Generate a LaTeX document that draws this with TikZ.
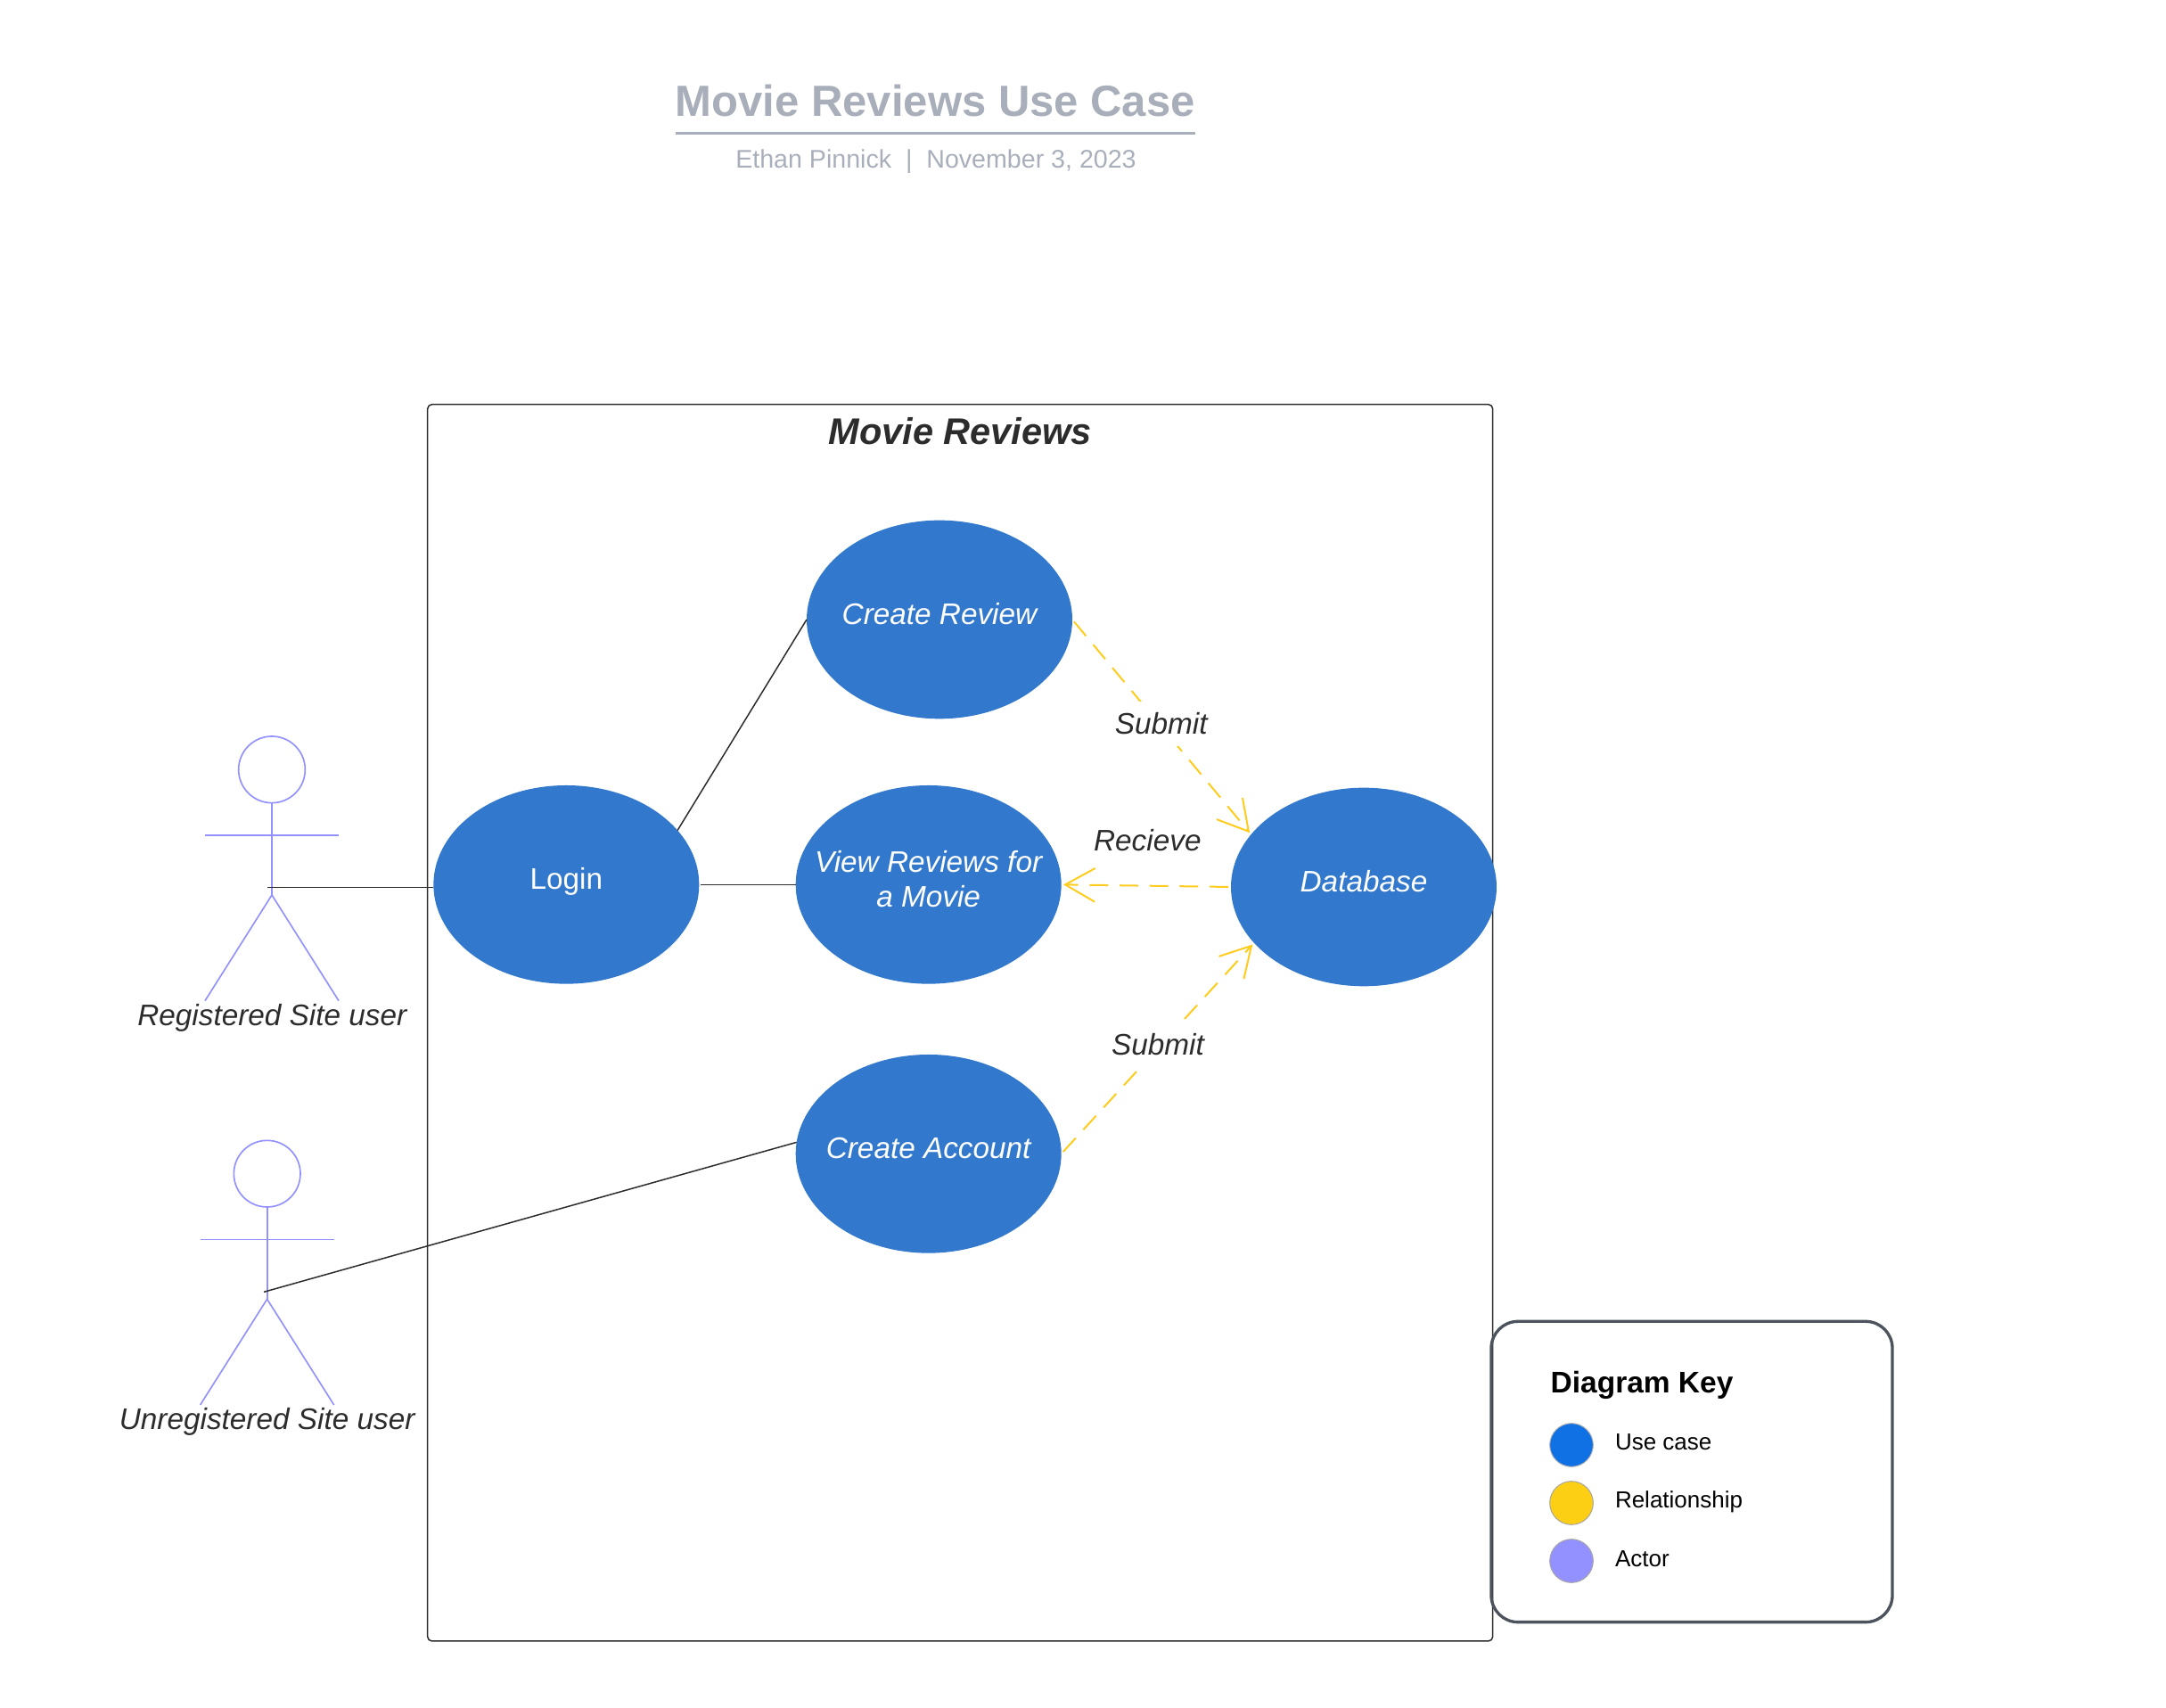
\documentclass[tikz,border=0pt]{standalone}
\usepackage{fontspec}
\setmainfont{Liberation Sans}
\usetikzlibrary{shapes.geometric,arrows.meta}
\definecolor{casecolor}{HTML}{3278CC}
\definecolor{linkcolor}{HTML}{FFCC1E}
\definecolor{actorcolor}{HTML}{9391FF}
\definecolor{titlecolor}{HTML}{A9AFBA}
\definecolor{textcolor}{HTML}{2C2C2C}
\definecolor{keycolor}{HTML}{4C535D}
\newcommand{\fsz}[1]{\fontsize{#1bp}{11.9bp}\selectfont}
\newcommand{\casetext}[1]{\raisebox{-1.7bp}[0pt][0pt]{\makebox[0pt]{#1}}}
\tikzset{
  use_case/.style={ellipse,fill=casecolor,text=white,inner sep=0pt,outer sep=0pt,
    minimum width=89.4bp,minimum height=66.8bp,align=center,font=\fsz{10}},
  rel_line/.style={linkcolor,line width=0.6bp,dash pattern=on 6.3bp off 3.8bp,shorten <=0.9bp,->},
  plain_line/.style={textcolor,line width=0.45bp},
  actor_line/.style={actorcolor,line width=0.5bp},
  rel_label/.style={text=textcolor,font=\fsz{10}\itshape,inner sep=0pt,fill=white,minimum height=15bp},
  key_dot/.style={circle,minimum size=14.6bp,inner sep=0pt,line width=0.3bp},
  key_label/.style={anchor=west,inner sep=0pt,font=\fsz{7.8}},
}
\begin{document}
\begin{tikzpicture}[>={Straight Barb[length=10bp,width=11.3bp]},line join=bevel,]
\useasboundingbox (0bp,0bp) rectangle (729bp,574.8bp);
%%
\node (node_title) at (314.8bp,540.9bp) [text=titlecolor,font=\fsz{14.7}\bfseries] {Movie Reviews Use Case};
  \node (node_author) at (315bp,520.4bp) [text=titlecolor,font=\fsz{8.58}] {Ethan Pinnick\ \ |\ \ November 3, 2023};
  \coordinate (rule_left) at (227.4bp,529.9bp);
  \coordinate (rule_right) at (402.4bp,529.9bp);
  \draw [titlecolor,line width=0.9bp] (rule_left) -- (rule_right);
%
\node (node_system) at (323.15bp,230.6bp) [draw=textcolor,line width=0.45bp,rounded corners=1.5bp,minimum width=358.5bp,minimum height=416.2bp,inner sep=0pt] {};
  \node (node_system_title) at (323.2bp,429.7bp) [text=textcolor,font=\fsz{12.45}\bfseries\itshape] {Movie Reviews};
%
\node (node_review) at (316.2bp,366.3bp) [use_case,font=\fsz{10}\itshape] {\casetext{Create Review}};
  \node (node_login) at (190.6bp,277.1bp) [use_case] {\casetext{Login}};
  \node (node_view) at (312.5bp,277.1bp) [use_case,font=\fsz{10}\itshape] {\casetext{View Reviews for}\\\casetext{a Movie}};
  \node (node_account) at (312.5bp,186.5bp) [use_case,font=\fsz{10}\itshape] {\casetext{Create Account}};
  \node (node_database) at (459bp,276.3bp) [use_case,font=\fsz{10}\itshape] {\casetext{Database}};
%
\node (head_registered) at (91.5bp,315.8bp) [circle,draw=actorcolor,line width=0.5bp,minimum size=22.4bp,inner sep=0pt] {};
  \coordinate (arm_registered_l) at (69bp,293.6bp);
  \coordinate (arm_registered_r) at (114bp,293.6bp);
  \coordinate (hip_registered) at (91.5bp,273.6bp);
  \coordinate (foot_registered_l) at (69bp,238bp);
  \coordinate (foot_registered_r) at (114bp,238bp);
  \coordinate (hand_registered) at (90bp,276.1bp);
  \draw [actor_line] (head_registered.south) -- (hip_registered);
  \draw [actor_line] (arm_registered_l) -- (arm_registered_r);
  \draw [actor_line] (foot_registered_l) -- (hip_registered) -- (foot_registered_r);
  \node (node_registered) at (91.6bp,232.2bp) [text=textcolor,font=\fsz{10}\itshape,anchor=center] {Registered Site user};
%
\node (head_guest) at (89.9bp,179.8bp) [circle,draw=actorcolor,line width=0.5bp,minimum size=22.4bp,inner sep=0pt] {};
  \coordinate (arm_guest_l) at (67.4bp,157.6bp);
  \coordinate (arm_guest_r) at (112.4bp,157.6bp);
  \coordinate (hip_guest) at (89.9bp,137.6bp);
  \coordinate (foot_guest_l) at (67.4bp,102bp);
  \coordinate (foot_guest_r) at (112.4bp,102bp);
  \coordinate (hand_guest) at (88.8bp,140bp);
  \draw [actor_line] (head_guest.south) -- (hip_guest);
  \draw [actor_line] (arm_guest_l) -- (arm_guest_r);
  \draw [actor_line] (foot_guest_l) -- (hip_guest) -- (foot_guest_r);
  \node (node_guest) at (89.9bp,96.4bp) [text=textcolor,font=\fsz{10}\itshape] {Unregistered Site user};
%
\draw [plain_line] (hand_registered) -- (node_login.west |- hand_registered);
  \draw [plain_line] (node_login.26.6) -- (node_review.west);
  \draw [plain_line] ([xshift=0.5bp]node_login.east) -- (node_view.west);
  \draw [plain_line] (hand_guest) -- (node_account.175.6);
%
\draw [rel_line,shorten >=0.7bp] (node_review.east) -- (node_database.155.4);
  \draw [rel_line,shorten >=0.7bp] (node_database.west) -- (node_view.east);
  \draw [rel_line,shorten >=0.7bp] (node_account.east) -- (node_database.207.4);
  \node (label_submit_top) at (390.8bp,331.2bp) [rel_label] {Submit};
  \node (label_recieve) at (386.2bp,292.1bp) [rel_label] {Recieve};
  \node (label_submit_low) at (389.7bp,223.4bp) [rel_label] {Submit};
%
\node (node_key) at (569.4bp,79.5bp) [draw=keycolor,line width=1bp,rounded corners=9bp,minimum width=135bp,minimum height=101.2bp,inner sep=0pt] {};
  \node (key_title) at (521.7bp,108.7bp) [anchor=west,inner sep=0pt,font=\fsz{10.05}\bfseries] {Diagram Key};
  \node (dot_case) at (528.9bp,88.5bp) [key_dot,fill={rgb,255:red,16;green,113;blue,229},draw=black!30] {};
  \node (dot_link) at (528.9bp,69bp) [key_dot,fill={rgb,255:red,252;green,206;blue,20},draw=black!35] {};
  \node (dot_actor) at (528.9bp,49.5bp) [key_dot,fill=actorcolor,draw=black!35] {};
  \node (key_case) at (543.4bp,89.4bp) [key_label] {Use case};
  \node (key_link) at (543.4bp,69.5bp) [key_label] {Relationship};
  \node (key_actor) at (543.4bp,50.3bp) [key_label] {Actor};
%
\end{tikzpicture}
\end{document}
